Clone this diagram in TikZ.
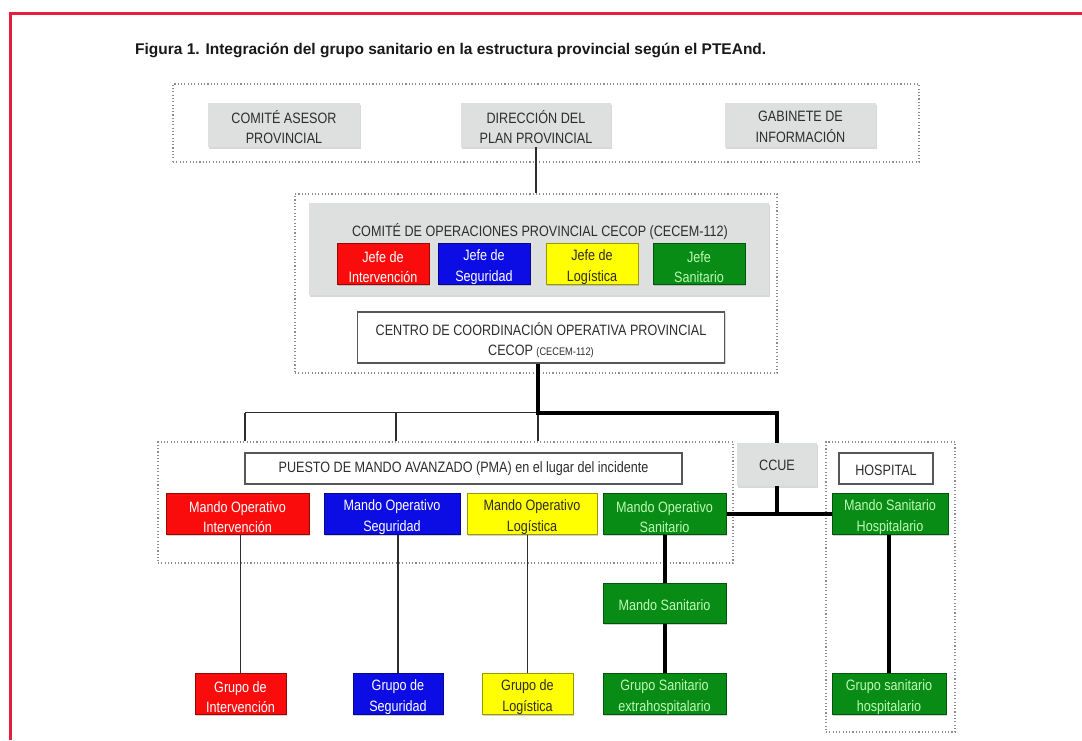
\documentclass[tikz,border=0pt]{standalone}
\usepackage{fontspec}
\setmainfont{Liberation Sans}
\newfontfamily\narrowfont{Liberation Sans}[FakeStretch=0.84]
\usetikzlibrary{shadows}

\definecolor{framered}{RGB}{228,30,62}
\definecolor{boxgray}{RGB}{221,224,223}
\definecolor{ink}{RGB}{45,45,45}
\definecolor{rojo}{RGB}{250,12,12}
\definecolor{azul}{RGB}{12,12,228}
\definecolor{amarillo}{RGB}{255,255,0}
\definecolor{verde}{RGB}{8,140,22}
\definecolor{verdetxt}{RGB}{190,250,180}
\definecolor{dotgray}{RGB}{140,140,140}

\tikzset{
  x=1pt, y=-1pt,
  txt/.style={font=\narrowfont\fontsize{15}{20.5}\selectfont, align=center, inner sep=0pt},
  dotframe/.style={draw=dotgray, line width=1.1pt, dash pattern=on 1.1pt off 2.2pt, inner sep=0pt},
  graybox/.style={fill=boxgray, draw=none, inner sep=0pt,
    drop shadow={shadow xshift=1pt, shadow yshift=-1.5pt, opacity=.3}},
  whitebox/.style={fill=white, draw=ink!80, line width=1.2pt, inner sep=0pt,
    drop shadow={shadow xshift=1pt, shadow yshift=-1.2pt, opacity=.3}},
  colbox/.style={fill=#1, draw=#1!60!black, line width=1pt, inner sep=0pt,
    drop shadow={shadow xshift=1pt, shadow yshift=-1.5pt, opacity=.35}},
  thinline/.style={draw=ink, line width=1.6pt},
  thickline/.style={draw=black, line width=4pt},
}

\begin{document}
\begin{tikzpicture}
\useasboundingbox[fill=white] (0,0) rectangle (1082,740);

% open red frame
\draw[framered, line width=3pt] (10.5,740) -- (10.5,13.5) -- (1082,13.5);

% title
\node[anchor=west, inner sep=0pt, font=\bfseries\fontsize{15.5}{18}\selectfont, text=black!90] (title)
  at (135,50) {Figura 1. Integración del grupo sanitario en la estructura provincial según el PTEAnd.};

% dotted groupings
\node[dotframe, minimum width=746pt, minimum height=78pt] (ftop) at (546,123) {};
\node[dotframe, minimum width=482pt, minimum height=179pt] (fcecop) at (536,283.5) {};
\node[dotframe, minimum width=575pt, minimum height=121pt] (fpma) at (445.5,502.5) {};
\node[dotframe, minimum width=129pt, minimum height=290pt] (fhosp) at (890.5,587) {};

% provincial level
\node[graybox, minimum width=152pt, minimum height=44pt] (ca) at (284,125) {};
\node[txt, text=ink] (ca-t) at (284,127) {COMITÉ ASESOR\\PROVINCIAL};
\node[graybox, minimum width=150pt, minimum height=44pt] (dp) at (536,125) {};
\node[txt, text=ink] (dp-t) at (536,127) {DIRECCIÓN DEL\\PLAN PROVINCIAL};
\node[graybox, minimum width=151pt, minimum height=44pt] (gi) at (800.5,125) {};
\node[txt, text=ink] (gi-t) at (800.5,127) {GABINETE DE\\INFORMACIÓN};

% operations committee
\node[graybox, minimum width=460pt, minimum height=92pt] (coc) at (539,249) {};
\node[txt, text=ink] (coc-t) at (540,232) {COMITÉ DE OPERACIONES PROVINCIAL CECOP (CECEM-112)};
\node[colbox=rojo, minimum width=92pt, minimum height=41pt] (j1) at (383,263.5) {};
\node[txt, text=white] (j1-t) at (383,267) {Jefe de\\Intervención};
\node[colbox=azul, minimum width=92pt, minimum height=41pt] (j2) at (484,263.5) {};
\node[txt, text=white] (j2-t) at (484,267) {Jefe de\\Seguridad};
\node[colbox=amarillo, minimum width=92pt, minimum height=41pt] (j3) at (592,263.5) {};
\node[txt, text=ink] (j3-t) at (592,267) {Jefe de\\Logística};
\node[colbox=verde, minimum width=92pt, minimum height=41pt] (j4) at (699,263.5) {};
\node[txt, text=verdetxt] (j4-t) at (699,267) {Jefe\\Sanitario};

\node[whitebox, minimum width=367pt, minimum height=51pt] (cecop) at (541,337.5) {};
\node[txt, text=ink] (cecop-t) at (541,340) {CENTRO DE COORDINACIÓN OPERATIVA PROVINCIAL\\CECOP {\fontsize{11}{12}\selectfont (CECEM-112)}};

% advanced command post
\node[whitebox, minimum width=437pt, minimum height=31pt] (pma) at (463.5,468.5) {};
\node[txt, text=ink] (pma-t) at (463.5,469) {PUESTO DE MANDO AVANZADO (PMA) en el lugar del incidente};
\node[graybox, minimum width=80pt, minimum height=43pt] (ccue) at (777,464.5) {};
\node[txt, text=ink] (ccue-t) at (777,465) {CCUE};
\node[whitebox, minimum width=94pt, minimum height=31pt] (hosp) at (886,468.5) {};
\node[txt, text=ink] (hosp-t) at (886,470) {HOSPITAL};

\node[colbox=rojo, minimum width=143pt, minimum height=41pt] (m1) at (237.5,513.5) {};
\node[txt, text=white] (m1-t) at (237.5,517) {Mando Operativo\\Intervención};
\node[colbox=azul, minimum width=136pt, minimum height=41pt] (m2) at (392,513.5) {};
\node[txt, text=white] (m2-t) at (392,517) {Mando Operativo\\Seguridad};
\node[colbox=amarillo, minimum width=130pt, minimum height=41pt] (m3) at (532,513.5) {};
\node[txt, text=ink] (m3-t) at (532,517) {Mando Operativo\\Logística};
\node[colbox=verde, minimum width=123pt, minimum height=41pt] (m4) at (664.5,513.5) {};
\node[txt, text=verdetxt] (m4-t) at (664.5,517) {Mando Operativo\\Sanitario};
\node[colbox=verde, minimum width=116pt, minimum height=41pt] (m5) at (890,513.5) {};
\node[txt, text=verdetxt] (m5-t) at (890,517) {Mando Sanitario\\Hospitalario};

\node[colbox=verde, minimum width=123pt, minimum height=40pt] (ms) at (664.5,603) {};
\node[txt, text=verdetxt] (ms-t) at (664.5,605) {Mando Sanitario};

% intervention groups
\node[colbox=rojo, minimum width=91pt, minimum height=41pt] (g1) at (240.5,693.5) {};
\node[txt, text=white] (g1-t) at (240.5,697) {Grupo de\\Intervención};
\node[colbox=azul, minimum width=90pt, minimum height=41pt] (g2) at (398,693.5) {};
\node[txt, text=white] (g2-t) at (398,697) {Grupo de\\Seguridad};
\node[colbox=amarillo, minimum width=91pt, minimum height=41pt] (g3) at (527.5,693.5) {};
\node[txt, text=ink] (g3-t) at (527.5,697) {Grupo de\\Logística};
\node[colbox=verde, minimum width=123pt, minimum height=41pt] (g4) at (664.5,693.5) {};
\node[txt, text=verdetxt] (g4-t) at (664.5,697) {Grupo Sanitario\\extrahospitalario};
\node[colbox=verde, minimum width=114pt, minimum height=41pt] (g5) at (889,693.5) {};
\node[txt, text=verdetxt] (g5-t) at (889,697) {Grupo sanitario\\hospitalario};

% connectors
\coordinate (hub) at (538,412.5);
\coordinate (busL) at (245,412.5);
\coordinate (busM) at (396,412.5);

\draw[thinline] (dp.south) -- (dp.south |- fcecop.north);
\draw[thinline] (hub) -- (busL);
\draw[thinline] (busL) -- (busL |- fpma.north);
\draw[thinline] (busM) -- (busM |- fpma.north);
\draw[thinline] (hub) -- (hub |- fpma.north);
\draw[thickline, line join=miter] (cecop.south -| hub) -- (hub) -- (hub -| ccue) -- (ccue.north);
\draw[thickline] (ccue.south) -- (ccue.south |- m4.east);
\draw[thickline] (m4.east) -- (m5.west);

\draw[thinline] (g1.north |- m1.south) -- (g1.north);
\draw[thinline] (g2.north |- m2.south) -- (g2.north);
\draw[thinline] (g3.north |- m3.south) -- (g3.north);
\draw[thickline] (m4.south) -- (ms.north);
\draw[thickline] (ms.south) -- (g4.north);
\draw[thickline] (g5.north |- m5.south) -- (g5.north);
\end{tikzpicture}
\end{document}
